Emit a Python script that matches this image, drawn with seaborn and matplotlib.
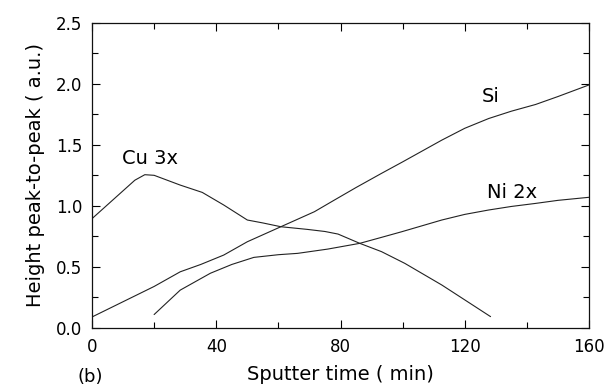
import numpy as np
import pandas as pd
import seaborn as sns
import matplotlib.pyplot as plt
from matplotlib.ticker import MultipleLocator

# Values
cu_time = [0, 13.8, 17, 20, 28.4, 35.5, 42.4, 50, 55, 60.8, 69.4, 75, 79.2, 86.2, 93.2, 100.7, 112.6, 120, 128.3]
cu_height = [0.895, 1.21, 1.255, 1.25, 1.17, 1.11, 1.007, 0.884, 0.86, 0.829, 0.807, 0.79, 0.769, 0.693, 0.625, 0.529, 0.352, 0.23, 0.093]

si_time = [0, 14.4, 20, 28.4, 35, 42.4, 50, 60.8, 71.6, 78, 85, 93.2, 100, 112.6, 120, 127.7, 135, 142.8, 150, 160]
si_height = [0.09, 0.27, 0.34, 0.46, 0.52, 0.597, 0.706, 0.829, 0.952, 1.047, 1.15, 1.266, 1.36, 1.538, 1.635, 1.715, 1.775, 1.83, 1.895, 1.99]

ni_time = [20, 28.4, 38.1, 45, 52.1, 60, 66.2, 75.9, 86.2, 93.2, 99.7, 112.6, 120, 127.7, 135, 142.8, 150, 160]
ni_height = [0.11, 0.31, 0.448, 0.52, 0.578, 0.60, 0.611, 0.646, 0.693, 0.742, 0.788, 0.884, 0.93, 0.966, 0.995, 1.02, 1.045, 1.07]

labels = ["Cu 3x", "Si", "Ni 2x"]
label_pos = [(18.7, 1.39), (128.3, 1.893), (135.3, 1.107)]

df = pd.concat([
    pd.DataFrame({"time": cu_time, "height": cu_height, "element": "Cu 3x"}),
    pd.DataFrame({"time": si_time, "height": si_height, "element": "Si"}),
    pd.DataFrame({"time": ni_time, "height": ni_height, "element": "Ni 2x"}),
])

sns.set_style("ticks")
plt.rcParams["font.family"] = ["DejaVu Sans"]
plt.rcParams["text.color"] = "black"
plt.rcParams["axes.labelcolor"] = "black"

fig = plt.figure(figsize=(6.08, 3.87), dpi=100)
ax = fig.add_axes([0.1513, 0.1525, 0.8175, 0.789])

sns.lineplot(data=df, x="time", y="height", hue="element", sort=False,
             palette=["#222222"] * 3, linewidth=0.8, legend=False, ax=ax)

for lab, (x, y) in zip(labels, label_pos):
    ax.text(x, y, lab, fontsize=14, ha="center", va="center", color="black")

ax.set_xlim(0, 160)
ax.set_ylim(0, 2.5)
ax.xaxis.set_major_locator(MultipleLocator(40))
ax.xaxis.set_minor_locator(MultipleLocator(20))
ax.yaxis.set_major_locator(MultipleLocator(0.5))
ax.yaxis.set_minor_locator(MultipleLocator(0.25))
ax.yaxis.set_major_formatter(plt.FuncFormatter(lambda v, p: f"{v:.1f}"))
ax.tick_params(which="both", direction="in", top=True, right=True, labelsize=12,
               width=0.8, colors="black")
ax.tick_params(which="major", length=6, pad=7)
ax.tick_params(which="minor", length=4)
for s in ax.spines.values():
    s.set_linewidth(0.9)
    s.set_color("#111111")

ax.set_xlabel("Sputter time ( min)", fontsize=14, labelpad=7)
ax.set_ylabel("Height peak-to-peak ( a.u.)", fontsize=14, labelpad=8)
fig.text(0.148, 0.025, "(b)", fontsize=13, ha="center", va="center")

plt.savefig("out.png", dpi=100)
